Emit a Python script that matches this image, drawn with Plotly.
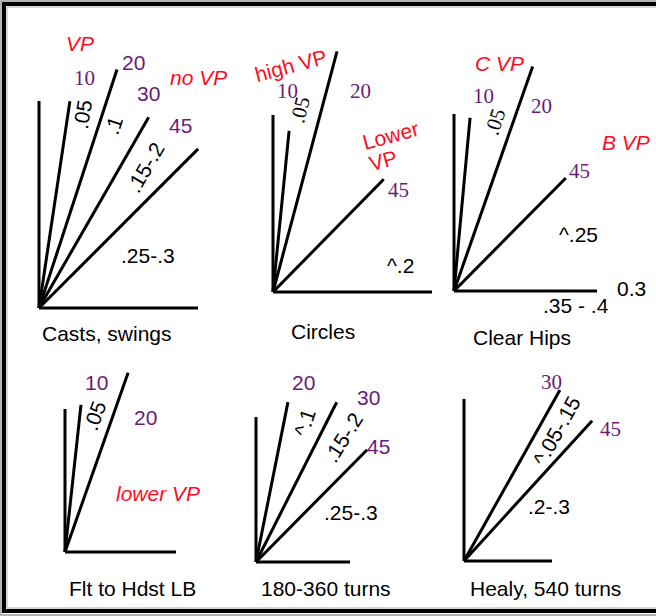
import math
import plotly.graph_objects as go

# ---------------- data ----------------
panel_titles = ["Casts, swings", "Circles", "Clear Hips",
                "Flt to Hdst LB", "180-360 turns", "Healy, 540 turns"]
# drawn ray angles (degrees from vertical) per panel
ray_angles = [
    [8.5, 18.1, 29.9, 45.0],
    [5.7, 14.9, 44.5],
    [5.3, 19.3, 44.7],
    [6.2, 19.4],
    [11.3, 26.8, 44.7],
    [29.3, 42.4],
]
# nominal angle labels per panel
ray_labels = [
    ["10", "20", "30", "45"],
    ["10", "20", "45"],
    ["10", "20", "45"],
    ["10", "20"],
    ["20", "30", "45"],
    ["30", "45"],
]
# values between rays
sector_values = [
    [".05", ".1", ".15-.2", ".25-.3"],
    [".05", "^.2"],
    [".05", "^.25", ".35 - .4", "0.3"],
    [".05"],
    ["^.1", ".15-.2", ".25-.3"],
    ["^.05-.15", ".2-.3"],
]
vp_notes = [
    ["VP", "no VP"],
    ["high VP", "Lower", "VP"],
    ["C VP", "B VP"],
    ["lower VP"],
    [],
    [],
]

# ---------------- layout (geometry & style) ----------------
origins = [(39, 308), (273, 292), (454, 291), (65, 552), (256, 562), (464, 561)]
vert_len = [207, 177, 177, 143, 145, 162]
base_len = [159, 159, 143, 111, 94, 88]
ray_len = [
    [209, 251, 220, 225],
    [162, 249, 158],
    [174, 238, 159],
    [148, 190],
    [163, 179, 158],
    [196, 190],
]
title_pos = [(107, 333), (323, 331), (522, 337), (132, 588), (326, 588), (545, 588)]

SANS = "Liberation Sans, Arial, sans-serif"
SERIF = "Liberation Serif, Times New Roman, serif"
PURPLE = "#6B1A78"
RED = "#FF0A1E"
FS = 21

# label placement: (x, y, angle, family)
ray_label_pos = [
    [(84, 78, 0, SERIF), (133, 62, 0, SANS), (148, 93, 0, SANS), (180, 125, 0, SANS)],
    [(287, 91, 0, SERIF), (360, 91, 0, SERIF), (398, 190, 0, SERIF)],
    [(483, 96, 0, SERIF), (541, 106, 0, SERIF), (579, 171, 0, SERIF)],
    [(96, 382, 0, SANS), (145, 417, 0, SANS)],
    [(303, 382, 0, SANS), (368, 397, 0, SANS), (378, 446, 0, SANS)],
    [(551, 382, 0, SERIF), (610, 429, 0, SERIF)],
]
sector_pos = [
    [(82, 115, -81, SANS), (113, 125, -72, SANS), (145, 167, -60, SANS), (148, 255, 0, SANS)],
    [(300, 110, -76, SERIF), (400, 265, 0, SANS)],
    [(495, 122, -72, SERIF), (578, 234, 0, SANS), (576, 305, 0, SANS), (631, 288, 0, SANS)],
    [(94, 416, -70, SANS)],
    [(304, 423, -72, SANS), (343, 437, -58, SANS), (351, 512, 0, SANS)],
    [(556, 431, -61, SANS), (549, 506, 0, SANS)],
]
# (x, y, angle, italic)
vp_pos = [
    [(80, 43, 0, True), (198, 77, 0, True)],
    [(291, 65, -15, False), (390, 135, -15, False), (383, 160, -15, False)],
    [(499, 63, 0, True), (626, 142, 0, True)],
    [(158, 493, 0, True)],
    [],
    [],
]

fig = go.Figure()
annotations = []

for p in range(len(panel_titles)):
    ox, oy = origins[p]
    xs = [ox, ox, None, ox, ox + base_len[p], None]
    ys = [oy, oy - vert_len[p], None, oy, oy, None]
    for ang, ln in zip(ray_angles[p], ray_len[p]):
        a = math.radians(ang)
        xs += [ox, ox + ln * math.sin(a), None]
        ys += [oy, oy - ln * math.cos(a), None]
    fig.add_trace(go.Scatter(x=xs, y=ys, mode="lines",
                             line=dict(color="black", width=3),
                             hoverinfo="skip", showlegend=False))

    tx, ty = title_pos[p]
    annotations.append(dict(x=tx, y=ty, text=panel_titles[p], showarrow=False,
                            font=dict(family=SANS, size=FS, color="black")))
    for lab, (x, y, ang, fam) in zip(ray_labels[p], ray_label_pos[p]):
        annotations.append(dict(x=x, y=y, text=lab, showarrow=False, textangle=ang,
                                font=dict(family=fam, size=FS, color=PURPLE)))
    for lab, (x, y, ang, fam) in zip(sector_values[p], sector_pos[p]):
        annotations.append(dict(x=x, y=y, text=lab, showarrow=False, textangle=ang,
                                font=dict(family=fam, size=FS, color="black")))
    for lab, (x, y, ang, ital) in zip(vp_notes[p], vp_pos[p]):
        annotations.append(dict(x=x, y=y, text=(f"<i>{lab}</i>" if ital else lab),
                                showarrow=False, textangle=ang,
                                font=dict(family=SANS, size=FS, color=RED)))

# frame open on the right (the picture is cropped there)
shapes = [
    dict(type="path", xref="x", yref="y", path="M 700 1 L 1 1 L 1 615 L 700 615",
         line=dict(color="#9a9a9a", width=1.5)),
    dict(type="path", xref="x", yref="y", path="M 700 4 L 4 4 L 4 611 L 700 611",
         line=dict(color="black", width=4)),
    dict(type="path", xref="x", yref="y", path="M 700 7 L 7 7 L 7 608 L 700 608",
         line=dict(color="#b0b0b0", width=1)),
]

fig.update_layout(
    width=656, height=616,
    margin=dict(l=0, r=0, t=0, b=0),
    paper_bgcolor="white", plot_bgcolor="white",
    xaxis=dict(range=[0, 656], visible=False, fixedrange=True),
    yaxis=dict(range=[616, 0], visible=False, fixedrange=True),
    annotations=annotations,
    shapes=shapes,
)

fig.write_html("out.html", config={"displayModeBar": False},
               post_script="document.body.style.margin='0';document.body.style.overflow='hidden';")
